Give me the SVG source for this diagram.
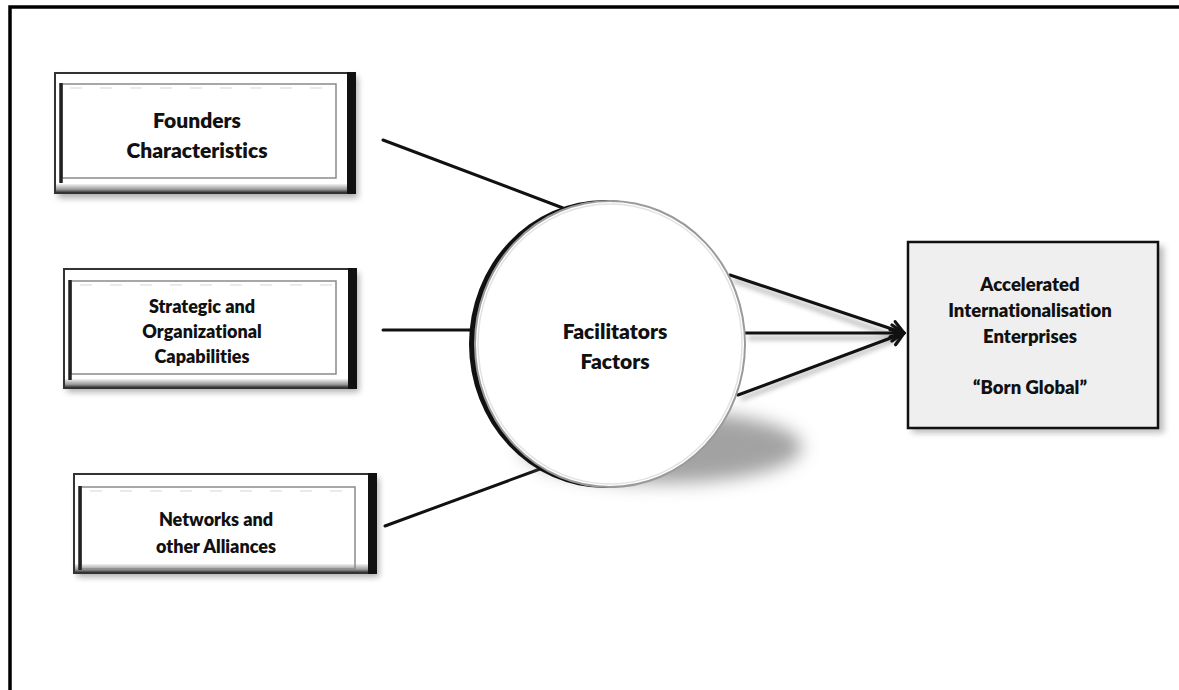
<svg xmlns="http://www.w3.org/2000/svg" width="1179" height="690" viewBox="0 0 1179 690">
  <defs>
    <style>
      .lbl { font-family: Lato, "Liberation Sans", sans-serif; font-weight: 800; fill: #111; text-anchor: middle; font-variant-ligatures: none; }
      .edge { stroke: #111; stroke-width: 3; fill: none; stroke-linecap: round; }
      .inner { fill: none; stroke: #8a8a8a; stroke-width: 1.5; }
      .bar { stroke: #222; stroke-width: 3.5; }
      .dash { stroke: #e4e4e4; stroke-width: 1.5; stroke-dasharray: 12 18; }
      .outer { fill: #fff; stroke: #333; stroke-width: 2; }
    </style>
    <filter id="soft" x="-20%" y="-20%" width="140%" height="160%">
      <feGaussianBlur stdDeviation="3"/>
    </filter>
    <filter id="haze" x="-30%" y="-80%" width="160%" height="260%">
      <feGaussianBlur stdDeviation="9"/>
    </filter>
    <filter id="lineShadow" x="-10%" y="-50%" width="120%" height="200%">
      <feGaussianBlur stdDeviation="2.5"/>
    </filter>
    <linearGradient id="bevelBottom" x1="0" y1="0" x2="0" y2="1">
      <stop offset="0" stop-color="#f2f2f2"/>
      <stop offset="0.6" stop-color="#9a9a9a"/>
      <stop offset="1" stop-color="#222"/>
    </linearGradient>
    <marker id="arrow" viewBox="0 0 20 20" refX="16" refY="10" markerWidth="20" markerHeight="20" markerUnits="userSpaceOnUse" orient="auto">
      <path d="M4,2 L16,10 L4,18" fill="none" stroke="#111" stroke-width="3.2" stroke-linejoin="round" stroke-linecap="round"/>
    </marker>
  </defs>

  <!-- page frame -->
  <rect x="10" y="7" width="1200" height="720" fill="none" stroke="#000" stroke-width="3.5"/>

  <!-- connectors -->
  <g id="connectors">
    <g stroke="#999" stroke-width="4" fill="none" filter="url(#lineShadow)" opacity="0.7">
      <line x1="733" y1="280" x2="900" y2="338"/>
      <line x1="748" y1="338" x2="900" y2="338"/>
      <line x1="741" y1="399" x2="900" y2="338"/>
    </g>
    <line class="edge" x1="383" y1="140" x2="563" y2="208"/>
    <line class="edge" x1="383" y1="330" x2="473" y2="330"/>
    <line class="edge" x1="385" y1="526" x2="540" y2="469"/>
    <line class="edge" x1="730" y1="275" x2="904" y2="333" marker-end="url(#arrow)"/>
    <line class="edge" x1="745" y1="333" x2="904" y2="333" marker-end="url(#arrow)"/>
    <line class="edge" x1="738" y1="395" x2="904" y2="333" marker-end="url(#arrow)"/>
  </g>

  <!-- box: Founders Characteristics -->
  <g id="founders">
    <rect x="58" y="77" width="300" height="121" fill="#777" filter="url(#soft)" opacity="0.6"/>
    <rect class="outer" x="55" y="73" width="300" height="120"/>
    <rect x="56" y="184" width="292" height="9" fill="url(#bevelBottom)"/>
    <rect x="347" y="72" width="9" height="122" fill="#111"/>
    <line class="dash" x1="70" y1="88" x2="334" y2="88"/>
    <rect class="inner" x="62" y="84" width="274" height="94"/>
    <line class="bar" x1="61" y1="83" x2="61" y2="183"/>
    <text class="lbl" x="197" y="128" font-size="21">Founders</text>
    <text class="lbl" x="197" y="158" font-size="21">Characteristics</text>
  </g>

  <!-- box: Strategic and Organizational Capabilities -->
  <g id="capabilities">
    <rect x="67" y="273" width="292" height="119" fill="#777" filter="url(#soft)" opacity="0.6"/>
    <rect class="outer" x="64" y="269" width="292" height="119"/>
    <rect x="65" y="379" width="284" height="9" fill="url(#bevelBottom)"/>
    <rect x="348" y="268" width="9" height="121" fill="#111"/>
    <line class="dash" x1="80" y1="285" x2="334" y2="285"/>
    <rect class="inner" x="71" y="281" width="265" height="93"/>
    <line class="bar" x1="70" y1="280" x2="70" y2="380"/>
    <text class="lbl" x="202" y="313" font-size="18">Strategic and</text>
    <text class="lbl" x="202" y="338" font-size="18">Organizational</text>
    <text class="lbl" x="202" y="363" font-size="18">Capabilities</text>
  </g>

  <!-- box: Networks and other Alliances -->
  <g id="networks">
    <rect x="77" y="478" width="302" height="99" fill="#777" filter="url(#soft)" opacity="0.6"/>
    <rect class="outer" x="74" y="474" width="302" height="99"/>
    <rect x="75" y="564" width="293" height="9" fill="url(#bevelBottom)"/>
    <rect x="368" y="473" width="9" height="101" fill="#111"/>
    <line class="dash" x1="90" y1="491" x2="352" y2="491"/>
    <rect class="inner" x="81" y="487" width="274" height="82"/>
    <line class="bar" x1="80" y1="486" x2="80" y2="570"/>
    <text class="lbl" x="216" y="526" font-size="18">Networks and</text>
    <text class="lbl" x="216" y="553" font-size="18">other Alliances</text>
  </g>

  <!-- central node: Facilitators Factors -->
  <g id="facilitators">
    <ellipse cx="662" cy="447" rx="140" ry="36" fill="#8c8c8c" filter="url(#haze)" opacity="0.8"/>
    <ellipse cx="605" cy="344" rx="136" ry="144" fill="#111"/>
    <ellipse cx="610" cy="344" rx="135" ry="143" fill="#fff" stroke="#9a9a9a" stroke-width="2"/>
    <ellipse cx="610" cy="344" rx="132" ry="140" fill="none" stroke="#e2e2e2" stroke-width="1.5"/>
    <text class="lbl" x="615" y="339" font-size="21">Facilitators</text>
    <text class="lbl" x="615" y="369" font-size="21">Factors</text>
  </g>

  <!-- target node: Born Global -->
  <g id="born-global">
    <rect x="912" y="246" width="252" height="187" fill="#888" filter="url(#soft)" opacity="0.55"/>
    <rect x="908" y="242" width="250" height="186" fill="#efefef" stroke="#111" stroke-width="2.5"/>
    <text class="lbl" x="1030" y="291" font-size="18.5">Accelerated</text>
    <text class="lbl" x="1030" y="317" font-size="18.5">Internationalisation</text>
    <text class="lbl" x="1030" y="343" font-size="18.5">Enterprises</text>
    <text class="lbl" x="1030" y="394" font-size="18.5">“Born Global”</text>
  </g>
</svg>
